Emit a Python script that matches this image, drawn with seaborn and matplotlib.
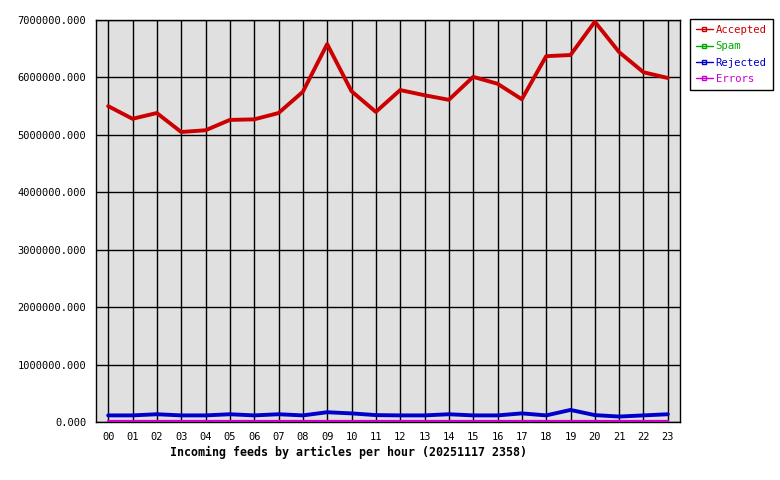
import matplotlib
matplotlib.use("Agg")
import matplotlib.pyplot as plt
import seaborn as sns
import pandas as pd
from matplotlib.lines import Line2D

hours = ["00","01","02","03","04","05","06","07","08","09","10","11",
         "12","13","14","15","16","17","18","19","20","21","22","23"]
accepted = [5500000, 5280000, 5380000, 5050000, 5080000, 5260000, 5270000, 5380000,
            5750000, 6580000, 5760000, 5400000, 5780000, 5690000, 5610000, 6010000,
            5890000, 5620000, 6370000, 6390000, 6970000, 6440000, 6090000, 5990000]
spam = [0]*24
rejected = [115000, 115000, 135000, 115000, 115000, 135000, 115000, 135000,
            115000, 170000, 150000, 120000, 115000, 115000, 135000, 115000,
            115000, 150000, 115000, 210000, 120000, 95000, 115000, 135000]
errors = [18000]*24
y_ticks = [0, 1000000, 2000000, 3000000, 4000000, 5000000, 6000000, 7000000]

series = {"Accepted": accepted, "Spam": spam, "Rejected": rejected, "Errors": errors}
colors = {"Accepted": "#cc0000", "Spam": "#00aa00", "Rejected": "#0000cc", "Errors": "#cc00cc"}
widths = {"Accepted": 2.8, "Spam": 1.6, "Rejected": 2.8, "Errors": 1.6}

sns.set_style("white")
plt.rcParams["font.family"] = ["DejaVu Sans Mono"]
plt.rcParams["text.color"] = "black"
plt.rcParams["xtick.color"] = "black"
plt.rcParams["ytick.color"] = "black"

fig = plt.figure(figsize=(7.8, 4.8), dpi=100)
ax = fig.add_axes([96/780, 58/480, 584/780, 402/480])
ax.set_facecolor("#e0e0e0")

x = list(range(len(hours)))
for name, vals in series.items():
    df = pd.DataFrame({"x": x, "y": vals})
    sns.lineplot(data=df, x="x", y="y", ax=ax, color=colors[name],
                 linewidth=widths[name], legend=False, zorder=4)

ax.set_xlim(-0.5, 23.5)
ax.set_ylim(0, 7000000)
ax.set_xticks(x)
ax.set_xticklabels(hours)
ax.set_yticks(y_ticks)
ax.set_yticklabels([f"{v:.3f}" for v in y_ticks])
ax.grid(True, color="black", linewidth=1.0, zorder=1)
ax.set_axisbelow(True)
ax.tick_params(axis="both", labelsize=7.5, length=4, color="black", width=1.0, pad=3,
               labelcolor="black")
for s in ax.spines.values():
    s.set_color("black")
    s.set_linewidth(1.0)
    s.set_zorder(2)
ax.set_xlabel("")
ax.set_ylabel("")

fig.text(170/780, 1 - 452/480, "Incoming feeds by articles per hour (20251117 2358)",
         fontsize=8.4, fontweight="bold", ha="left", va="center", color="black")

handles = [Line2D([0], [0], color=colors[n], linewidth=1.0, marker="s", markersize=3,
                  markerfacecolor="none", markeredgecolor=colors[n]) for n in series]
leg = ax.legend(handles, list(series.keys()), loc="upper left",
                bbox_to_anchor=(690/780, 1 - 19/480), bbox_transform=fig.transFigure,
                fontsize=7.7, frameon=True, fancybox=False, framealpha=1,
                edgecolor="black", handlelength=1.6, handletextpad=0.25,
                borderpad=0.55, labelspacing=0.6, borderaxespad=0)
leg.get_frame().set_linewidth(1.0)
for t, n in zip(leg.get_texts(), series):
    t.set_color(colors[n])

fig.savefig("out.png", dpi=100)
